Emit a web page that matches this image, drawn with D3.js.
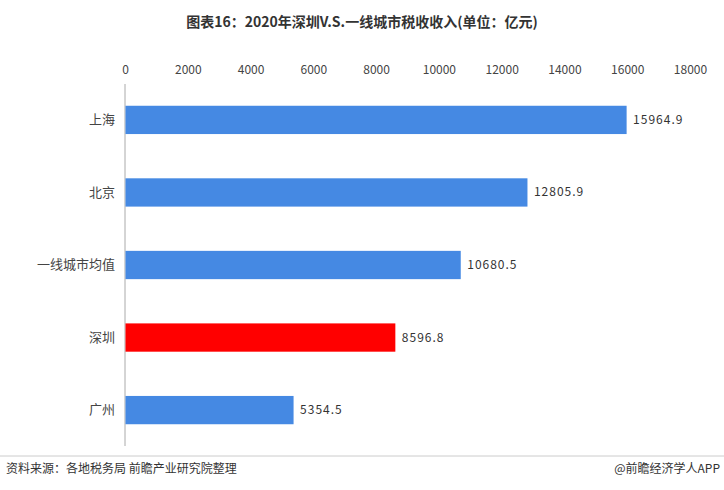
<!DOCTYPE html>
<html><head><meta charset="utf-8">
<script src="https://cdn.jsdelivr.net/npm/d3@7"></script>
<style>body{margin:0;background:#fff}text{font-family:"Noto Sans CJK SC","Noto Sans",sans-serif}</style>
</head><body><svg id="c" width="724" height="490"></svg>
<script>
const categories=["上海","北京","一线城市均值","深圳","广州"];
const values=[15964.9,12805.9,10680.5,8596.8,5354.5];
const colors=["#4589e3","#4589e3","#4589e3","#ff0000","#4589e3"];
const ticks=[0,2000,4000,6000,8000,10000,12000,14000,16000,18000];
const svg=d3.select("#c");
const x=d3.scaleLinear().domain([0,18000]).range([125,690]);
const y=d3.scaleBand().domain(categories).range([84,446]).paddingInner(0.61).paddingOuter(0.3);
svg.append("text").attr("x",362).attr("y",27).attr("text-anchor","middle").attr("font-size",14).attr("font-weight","bold").attr("fill","#333").text("图表16：2020年深圳V.S.一线城市税收收入(单位：亿元)");
const ax=svg.append("g").attr("transform","translate(0,84)").call(d3.axisTop(x).tickValues(ticks).tickSize(0).tickPadding(10).tickFormat(d3.format("d")));
ax.select(".domain").remove();
ax.selectAll("text").attr("font-size",12).attr("fill","#444");
svg.append("line").attr("x1",125).attr("x2",125).attr("y1",84).attr("y2",446).attr("stroke","#aaa");
const g=svg.append("g").attr("transform","translate(125,0)").call(d3.axisLeft(y).tickSize(0).tickPadding(10));
g.select(".domain").remove();
g.selectAll("text").attr("font-size",13).attr("fill","#444");
svg.selectAll("rect.b").data(values).join("rect").attr("class","b")
 .attr("x",x(0)+0.5).attr("y",(d,i)=>y(categories[i])).attr("height",y.bandwidth())
 .attr("width",d=>x(d)-x(0)).attr("fill",(d,i)=>colors[i]);
svg.selectAll("text.v").data(values).join("text").attr("class","v")
 .attr("x",d=>x(d)+7).attr("y",(d,i)=>y(categories[i])+y.bandwidth()/2+4)
 .attr("font-size",12).attr("letter-spacing",1).attr("fill","#333").text(d=>d.toFixed(1));
svg.append("line").attr("x1",0).attr("x2",724).attr("y1",456).attr("y2",456).attr("stroke","#ccc");
svg.append("text").attr("x",6).attr("y",473).attr("font-size",12).attr("fill","#333").text("资料来源：各地税务局 前瞻产业研究院整理");
svg.append("text").attr("x",720).attr("y",473).attr("text-anchor","end").attr("font-size",12).attr("fill","#333").text("@前瞻经济学人APP");
</script></body></html>
